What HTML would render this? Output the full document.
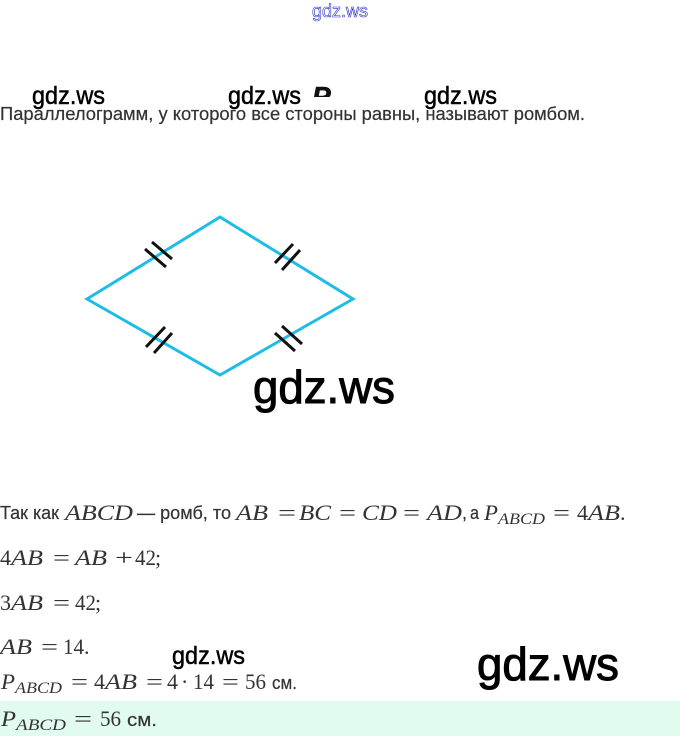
<!DOCTYPE html>
<html>
<head>
<meta charset="utf-8">
<style>
html,body{margin:0;padding:0;background:#fff;}
svg{display:block;}
.s{font-family:"Liberation Sans",sans-serif;font-size:18px;fill:#333;stroke:#333;stroke-width:.2px;}
.m{font-family:"Liberation Serif",serif;font-size:22px;fill:#333;}
.i{font-style:italic;}
.b{font-family:"Liberation Serif",serif;font-style:italic;font-size:16px;fill:#333;}
.w{font-family:"Liberation Sans",sans-serif;fill:#000;stroke:#000;}
.wl{font-size:46px;stroke-width:1px;}
.ws{font-size:25px;stroke-width:.5px;}
</style>
</head>
<body>
<svg width="680" height="736" viewBox="0 0 680 736" xmlns="http://www.w3.org/2000/svg">
<defs><clipPath id="c"><rect x="305" y="86" width="30" height="11"/></clipPath></defs>
<rect width="680" height="736" fill="#fff"/>
<rect x="0" y="701" width="680" height="35" fill="#e1fbee"/>

<text x="312" y="17" font-family="Liberation Sans,sans-serif" font-size="18" fill="#fff" stroke="#2a2ac8" stroke-width="0.6" textLength="56" lengthAdjust="spacingAndGlyphs">gdz.ws</text>

<text class="w ws" x="32" y="104" textLength="73" lengthAdjust="spacingAndGlyphs">gdz.ws</text>
<text class="w ws" x="228" y="104" textLength="73" lengthAdjust="spacingAndGlyphs">gdz.ws</text>
<text class="w ws" x="424" y="104" textLength="73" lengthAdjust="spacingAndGlyphs">gdz.ws</text>
<g clip-path="url(#c)"><text x="312" y="106" font-family="Liberation Sans,sans-serif" font-weight="bold" font-style="italic" font-size="28" fill="#111" stroke="#111" stroke-width=".6">P</text></g>

<text class="s" x="0" y="120" textLength="585" lengthAdjust="spacingAndGlyphs">Параллелограмм, у которого все стороны равны, называют ромбом.</text>

<polygon points="87,299 220,217 353,299 220,375" fill="none" stroke="#1fbce6" stroke-width="3" stroke-linejoin="miter"/>
<g stroke="#111" stroke-width="3" fill="none">
<line x1="145" y1="249" x2="166" y2="267"/><line x1="152" y1="242" x2="172" y2="259"/>
<line x1="275" y1="263" x2="293" y2="244"/><line x1="282" y1="270" x2="300" y2="250"/>
<line x1="146" y1="347" x2="165" y2="327"/><line x1="154" y1="353" x2="172" y2="333"/>
<line x1="275" y1="333" x2="295" y2="351"/><line x1="282" y1="326" x2="302" y2="344"/>
</g>

<text class="w wl" x="253" y="403" textLength="142" lengthAdjust="spacingAndGlyphs">gdz.ws</text>
<text class="w wl" x="477" y="680" textLength="142" lengthAdjust="spacingAndGlyphs">gdz.ws</text>
<text class="w ws" x="172" y="664" textLength="73" lengthAdjust="spacingAndGlyphs">gdz.ws</text>

<!-- line 1 -->
<text class="s" x="0" y="519" textLength="59" lengthAdjust="spacingAndGlyphs">Так как</text>
<text class="m i" x="65" y="520" textLength="68" lengthAdjust="spacingAndGlyphs">ABCD</text>
<text class="s" x="137" y="519" textLength="94" lengthAdjust="spacingAndGlyphs">— ромб, то</text>
<text class="m i" x="236" y="520" textLength="32" lengthAdjust="spacingAndGlyphs">AB</text>
<text class="m" x="278" y="520" textLength="18" lengthAdjust="spacingAndGlyphs">=</text>
<text class="m i" x="299" y="520" textLength="32" lengthAdjust="spacingAndGlyphs">BC</text>
<text class="m" x="339" y="520" textLength="17" lengthAdjust="spacingAndGlyphs">=</text>
<text class="m i" x="362" y="520" textLength="35" lengthAdjust="spacingAndGlyphs">CD</text>
<text class="m" x="403" y="520" textLength="17" lengthAdjust="spacingAndGlyphs">=</text>
<text class="m i" x="427" y="520" textLength="35" lengthAdjust="spacingAndGlyphs">AD</text>
<text class="s" x="462" y="519">,</text>
<text class="s" x="470" y="519" textLength="9" lengthAdjust="spacingAndGlyphs">а</text>
<text class="m i" x="484" y="520" textLength="14" lengthAdjust="spacingAndGlyphs">P</text>
<text class="b" x="498" y="524" textLength="47" lengthAdjust="spacingAndGlyphs">ABCD</text>
<text class="m" x="553" y="520" textLength="17" lengthAdjust="spacingAndGlyphs">=</text>
<text class="m" x="577" y="520">4</text>
<text class="m i" x="588" y="520" textLength="32" lengthAdjust="spacingAndGlyphs">AB</text>
<text class="m" x="620" y="520">.</text>

<!-- line 2 -->
<text class="m" x="0" y="565">4</text>
<text class="m i" x="11" y="565" textLength="32" lengthAdjust="spacingAndGlyphs">AB</text>
<text class="m" x="53" y="565" textLength="17" lengthAdjust="spacingAndGlyphs">=</text>
<text class="m i" x="75" y="565" textLength="32" lengthAdjust="spacingAndGlyphs">AB</text>
<text class="m" x="115" y="565" textLength="18" lengthAdjust="spacingAndGlyphs">+</text>
<text class="m" x="135" y="565" textLength="21" lengthAdjust="spacingAndGlyphs">42</text>
<text class="m" x="155" y="565">;</text>

<!-- line 3 -->
<text class="m" x="0" y="610">3</text>
<text class="m i" x="11" y="610" textLength="32" lengthAdjust="spacingAndGlyphs">AB</text>
<text class="m" x="53" y="610" textLength="17" lengthAdjust="spacingAndGlyphs">=</text>
<text class="m" x="75" y="610" textLength="21" lengthAdjust="spacingAndGlyphs">42</text>
<text class="m" x="95" y="610">;</text>

<!-- line 4 -->
<text class="m i" x="0" y="654" textLength="32" lengthAdjust="spacingAndGlyphs">AB</text>
<text class="m" x="41" y="654" textLength="17" lengthAdjust="spacingAndGlyphs">=</text>
<text class="m" x="63" y="654" textLength="21" lengthAdjust="spacingAndGlyphs">14</text>
<text class="m" x="84" y="654">.</text>

<!-- line 5 -->
<text class="m i" x="1" y="689" textLength="14" lengthAdjust="spacingAndGlyphs">P</text>
<text class="b" x="15" y="693" textLength="47" lengthAdjust="spacingAndGlyphs">ABCD</text>
<text class="m" x="71" y="689" textLength="17" lengthAdjust="spacingAndGlyphs">=</text>
<text class="m" x="94" y="689">4</text>
<text class="m i" x="105" y="689" textLength="32" lengthAdjust="spacingAndGlyphs">AB</text>
<text class="m" x="146" y="689" textLength="17" lengthAdjust="spacingAndGlyphs">=</text>
<text class="m" x="167" y="689">4</text>
<text class="m" x="181" y="689">·</text>
<text class="m" x="193" y="689" textLength="21" lengthAdjust="spacingAndGlyphs">14</text>
<text class="m" x="222" y="689" textLength="17" lengthAdjust="spacingAndGlyphs">=</text>
<text class="m" x="245" y="689" textLength="21" lengthAdjust="spacingAndGlyphs">56</text>
<text class="s" x="272" y="689" textLength="25" lengthAdjust="spacingAndGlyphs">см.</text>

<!-- line 6 -->
<text class="m i" x="1" y="726" textLength="15" lengthAdjust="spacingAndGlyphs">P</text>
<text class="b" x="16" y="730" textLength="50" lengthAdjust="spacingAndGlyphs">ABCD</text>
<text class="m" x="74" y="726" textLength="18" lengthAdjust="spacingAndGlyphs">=</text>
<text class="m" x="100" y="726" textLength="21" lengthAdjust="spacingAndGlyphs">56</text>
<text class="s" x="127" y="726" textLength="30" lengthAdjust="spacingAndGlyphs">см.</text>
</svg>
</body>
</html>
